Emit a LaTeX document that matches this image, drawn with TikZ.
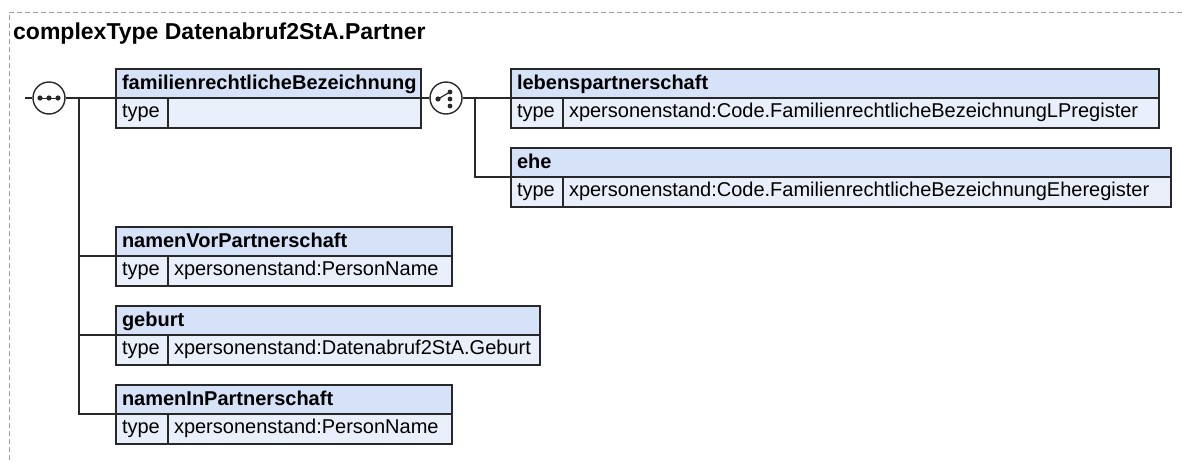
\documentclass[tikz,border=0pt]{standalone}
\usepackage{fontspec}
\setmainfont{Liberation Sans}
\usetikzlibrary{positioning}
\definecolor{headfill}{RGB}{214,226,247}
\definecolor{rowfill}{RGB}{234,240,251}
\definecolor{edgec}{RGB}{40,40,40}
\definecolor{framec}{RGB}{160,160,160}

\begin{document}
\begin{tikzpicture}[
  x=1pt, y=-1pt,
  font=\fontsize{20}{24}\selectfont,
  head/.style={draw=edgec, fill=headfill, line width=1.4pt, anchor=north west, outer sep=0pt, minimum height=29pt, inner xsep=6pt, inner ysep=0pt, text height=15.5pt, text depth=3pt, align=left, font=\fontsize{20}{24}\selectfont\bfseries},
  cell/.style={draw=edgec, fill=rowfill, line width=1.4pt, anchor=north west, outer sep=0pt, minimum height=30pt, inner xsep=6pt, inner ysep=0pt, text height=14pt, text depth=4.5pt, align=left},
  group/.style={draw=edgec, fill=white, line width=1.4pt, circle, minimum size=32pt, inner sep=0pt},
  link/.style={draw=edgec, line width=1.4pt}
]
\useasboundingbox (0,0) rectangle (1182,461);
\draw[framec, line width=1pt, dash pattern=on 5pt off 3pt] (1182,12) -- (9,12) -- (9,461);

\node[anchor=base west, inner sep=0pt, font=\fontsize{23}{27}\selectfont\bfseries] (title) at (13,39) {complexType Datenabruf2StA.Partner};

% sequence
\node[head, text width=293pt] (famHead) at (116,69) {familienrechtlicheBezeichnung};
\node[cell, text width=40pt] (famType) at (famHead.south west) {type};
\node[cell, text width=241pt] (famVal) at (famType.north east) {};

\node[head, text width=324pt] (nvHead) at (116,227) {namenVorPartnerschaft};
\node[cell, text width=40pt] (nvType) at (nvHead.south west) {type};
\node[cell, text width=272pt] (nvVal) at (nvType.north east) {xpersonenstand:PersonName};

\node[head, text width=412pt] (gebHead) at (116,306) {geburt};
\node[cell, text width=40pt] (gebType) at (gebHead.south west) {type};
\node[cell, text width=360pt] (gebVal) at (gebType.north east) {xpersonenstand:Datenabruf2StA.Geburt};

\node[head, text width=324pt] (niHead) at (116,385) {namenInPartnerschaft};
\node[cell, text width=40pt] (niType) at (niHead.south west) {type};
\node[cell, text width=272pt] (niVal) at (niType.north east) {xpersonenstand:PersonName};

% choice
\node[head, text width=636pt] (lpHead) at (511,69) {lebenspartnerschaft};
\node[cell, text width=40pt] (lpType) at (lpHead.south west) {type};
\node[cell, text width=584pt] (lpVal) at (lpType.north east) {xpersonenstand:Code.FamilienrechtlicheBezeichnungLPregister};

\node[head, text width=648pt] (eheHead) at (511,148) {ehe};
\node[cell, text width=40pt] (eheType) at (eheHead.south west) {type};
\node[cell, text width=596pt] (eheVal) at (eheType.north east) {xpersonenstand:Code.FamilienrechtlicheBezeichnungEheregister};

\node[group] (seq) at (49,98) {};
\node[group] (cho) at (446,98) {};
\coordinate (start) at (25,98);
\coordinate (trunk) at (79,98);
\coordinate (branch) at (475,98);

\draw[link] (start) -- (seq);
\draw[link] (seq) -- (famHead.south west);
\draw[link] (trunk) |- (nvHead.south west);
\draw[link] (trunk) |- (gebHead.south west);
\draw[link] (trunk) |- (niHead.south west);
\draw[link] (famHead.south east) -- (cho);
\draw[link] (cho) -- (lpHead.south west);
\draw[link] (branch) |- (eheHead.south west);

% icons
\draw[edgec, line width=1pt] ([xshift=-9pt]seq.center) -- ([xshift=9pt]seq.center);
\foreach \dx in {-9,0,9}
  \fill[edgec] ([xshift=\dx pt]seq.center) circle (2.6pt);
\draw[edgec, line width=1.2pt] ([shift={(-8pt,-1pt)}]cho.center) -- ([shift={(4pt,6pt)}]cho.center);
\fill[edgec] ([shift={(-8pt,-1pt)}]cho.center) circle (2.6pt);
\foreach \dy in {6,-1,-8}
  \fill[edgec] ([shift={(4pt,\dy pt)}]cho.center) circle (2.4pt);
\end{tikzpicture}
\end{document}
